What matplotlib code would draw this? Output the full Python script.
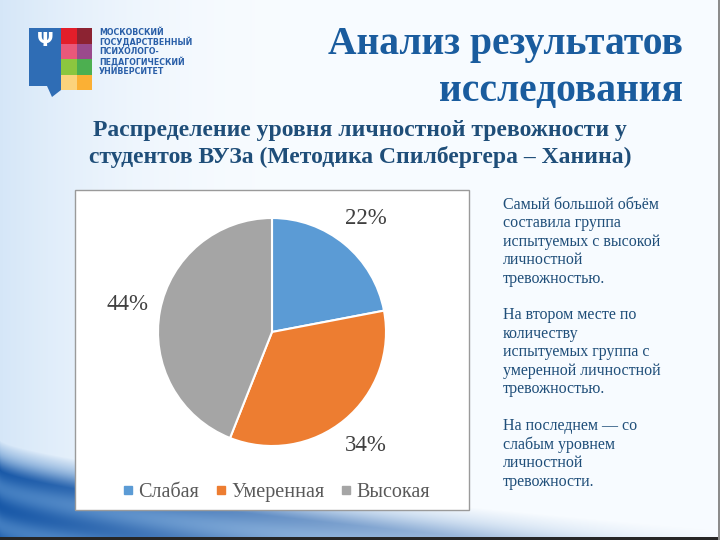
import numpy as np
import matplotlib.pyplot as plt
from matplotlib.patches import Rectangle, Polygon
from matplotlib.lines import Line2D

# data
categories = ["Слабая", "Умеренная", "Высокая"]
shares = [22, 34, 44]
colors = ["#5b9bd5", "#ed7d31", "#a5a5a5"]

title = "Анализ результатов\nисследования"
subtitle = "Распределение уровня личностной тревожности у\nстудентов ВУЗа (Методика Спилбергера – Ханина)"
side_text = ("Самый большой объём\nсоставила группа\nиспытуемых с высокой\nличностной\nтревожностью.\n\n"
             "На втором месте по\nколичеству\nиспытуемых группа с\nумеренной личностной\nтревожностью.\n\n"
             "На последнем — со\nслабым уровнем\nличностной\nтревожности.")
logo_lines = "МОСКОВСКИЙ\nГОСУДАРСТВЕННЫЙ\nПСИХОЛОГО-\nПЕДАГОГИЧЕСКИЙ\nУНИВЕРСИТЕТ"

W, H = 720, 540
fig = plt.figure(figsize=(7.2, 5.4), dpi=100)

# background: pale gradient with blue swoosh at the bottom
bg = fig.add_axes([0, 0, 1, 1])
xx, yy = np.meshgrid(np.arange(W), np.arange(H))
base = np.array([0.97, 0.985, 1.0])
left_tint = np.array([0.78, 0.87, 0.96])
t = np.clip(1 - xx / 280, 0, 1)[..., None] ** 2
img = base * (1 - t * 0.7) + left_tint * (t * 0.7)
curve = 440 + 90 * (xx / W) ** 0.7
d = yy - curve
blue_dark = np.array([0.10, 0.35, 0.66])
blue_light = np.array([0.55, 0.75, 0.93])
fade = np.clip(1 - xx / 780, 0, 1)[..., None]
m = np.clip(d / 30, 0, 1)[..., None] * fade
stripes = 0.5 + 0.5 * np.sin(d / 6.0)[..., None]
col = blue_dark * (1 - stripes * 0.35) + blue_light * (stripes * 0.35)
img = img * (1 - m) + col * m
img[-3:, :, :] = 0.15
img[:, -2:, :] = 0.55
bg.imshow(np.clip(img, 0, 1), extent=[0, W, H, 0], aspect="auto")
bg.set_xlim(0, W)
bg.set_ylim(H, 0)
bg.axis("off")

# logo
bg.add_patch(Polygon([(29, 28), (61, 28), (61, 90), (52, 97), (47, 86), (29, 86)], closed=True,
                     facecolor="#2f6db5", edgecolor="none"))
bg.text(45, 40, "Ψ", color="white", fontsize=14, fontweight="bold", ha="center", va="center")
sq = [["#e31e2a", "#8c2332"], ["#e9587a", "#9a4a8c"], ["#8cc63f", "#4caf50"], ["#fcd37c", "#fbb034"]]
for r, row in enumerate(sq):
    for c, cc in enumerate(row):
        bg.add_patch(Rectangle((61 + c * 15.5, 28 + r * 15.5), 15.5, 15.5, facecolor=cc, edgecolor="none"))
bg.text(99, 52, logo_lines, color="#2a5fa8", fontsize=5.7, fontweight="bold",
        family="DejaVu Sans", va="center", ha="left", linespacing=1.05)

# titles
fig.text(683 / W, 1 - 68 / H, title, ha="right", va="center", family="Liberation Serif",
         fontweight="bold", fontsize=28.5, color="#1a5c9e", linespacing=1.35)
fig.text(360 / W, 1 - 144 / H, subtitle, ha="center", va="center", family="Liberation Serif",
         fontweight="bold", fontsize=17, color="#1f4e79", linespacing=1.25)

# chart box
bg.add_patch(Rectangle((75, 190), 394, 320, facecolor="white", edgecolor="#9a9a9a", lw=1))

# pie
cx, cy, rad = 272, 332, 114
ax = fig.add_axes([(cx - rad) / W, 1 - (cy + rad) / H, 2 * rad / W, 2 * rad / H])
wedges, texts = ax.pie(shares, colors=colors, startangle=90, counterclock=False,
                       labels=[f"{v}%" for v in shares], labeldistance=1.29,
                       wedgeprops=dict(edgecolor="white", linewidth=1.5),
                       textprops=dict(family="Liberation Serif", fontsize=16.5, color="#404040"))
for tx in texts:
    tx.set_ha("center")
ax.set_xlim(-1, 1)
ax.set_ylim(-1, 1)
ax.set_aspect("equal")

handles = [Line2D([], [], marker="s", linestyle="none", markersize=6, color=c) for c in colors]
fig.legend(handles, categories, loc="center", bbox_to_anchor=(275 / W, 1 - 492 / H), ncol=3,
           frameon=False, prop=dict(family="Liberation Serif", size=14.5), labelcolor="#595959",
           handletextpad=0.1, columnspacing=0.7, handlelength=0.8)

# side text
fig.text(503 / W, 1 - 197 / H, side_text, ha="left", va="top", family="Liberation Serif",
         fontsize=11.5, color="#1f4e79", linespacing=1.2)

fig.savefig("out.png", dpi=100)
